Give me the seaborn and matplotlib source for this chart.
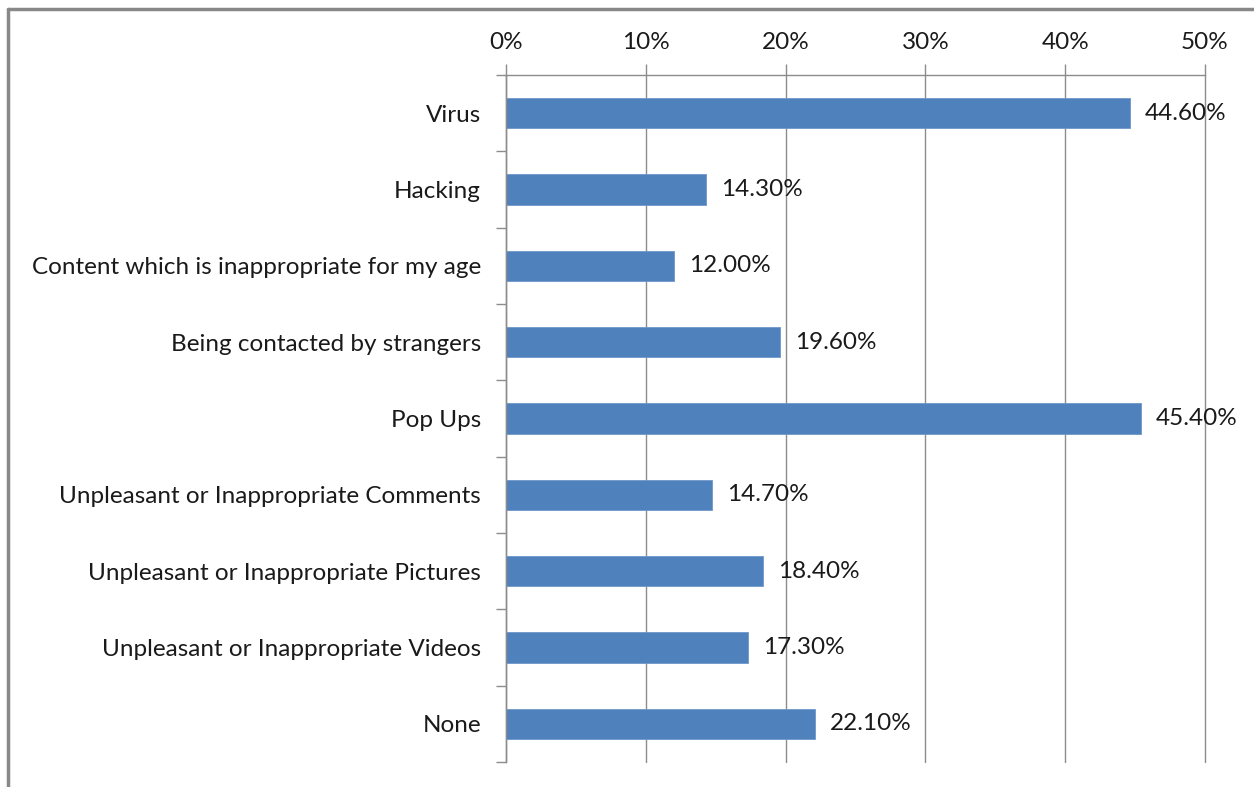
import matplotlib
matplotlib.use("Agg")
import matplotlib.pyplot as plt
from matplotlib.lines import Line2D
from matplotlib.ticker import FuncFormatter
import seaborn as sns
import pandas as pd
import numpy as np

categories = [
    "Virus",
    "Hacking",
    "Content which is inappropriate for my age",
    "Being contacted by strangers",
    "Pop Ups",
    "Unpleasant or Inappropriate Comments",
    "Unpleasant or Inappropriate Pictures",
    "Unpleasant or Inappropriate Videos",
    "None",
]
values = [44.6, 14.3, 12.0, 19.6, 45.4, 14.7, 18.4, 17.3, 22.1]
x_ticks = [0, 10, 20, 30, 40, 50]

sns.set_theme(style="white")
plt.rcParams["font.family"] = ["Lato", "DejaVu Sans"]

df = pd.DataFrame({"category": categories, "value": values})

W, H = 1254, 787
FS = 17.5
TXT = "#1a1a1a"
fig = plt.figure(figsize=(W / 100, H / 100), dpi=100)
ax = fig.add_axes([506 / W, 1 - 762 / H, (1205 - 506) / W, (762 - 75) / H])

sns.barplot(data=df, x="value", y="category", orient="h", color="#4F81BD",
            width=0.4, saturation=1, edgecolor="#6F97CA", linewidth=0.6, ax=ax)

ax.set_xlim(0, 50)
ax.set_ylim(len(categories) - 0.5, -0.5)
ax.set_xlabel("")
ax.set_ylabel("")

grid_c = "#8C8C8C"
ax.xaxis.tick_top()
ax.set_xticks(x_ticks)
ax.xaxis.set_major_formatter(FuncFormatter(lambda v, p: f"{v:.0f}%"))
ax.tick_params(axis="x", direction="out", length=8, width=1, color=grid_c,
               labelsize=FS, pad=8, labelcolor=TXT)
ax.grid(axis="x", color=grid_c, linewidth=1)
for gl in ax.get_xgridlines():
    gl.set_clip_on(False)
ax.set_axisbelow(True)

ax.set_yticks(np.arange(len(categories)))
ax.set_yticklabels(categories)
ax.set_yticks(np.arange(len(categories) + 1) - 0.5, minor=True)
ax.tick_params(axis="y", which="major", length=0, labelsize=FS, pad=18,
               labelcolor=TXT)
ax.tick_params(axis="y", which="minor", direction="out", length=7, width=1,
               color=grid_c, left=True)

for side in ["right", "bottom"]:
    ax.spines[side].set_visible(False)
for side in ["left", "top"]:
    ax.spines[side].set_color(grid_c)
    ax.spines[side].set_linewidth(1)

for i, v in enumerate(values):
    ax.annotate(f"{v:.2f}%", xy=(v, i), xytext=(11, 0), textcoords="offset points",
                va="center", ha="left", fontsize=FS, color=TXT)

# outer frame (top and left edges)
fig.add_artist(Line2D([7.5 / W, 1.0], [1 - 8.5 / H, 1 - 8.5 / H], transform=fig.transFigure,
                      color="#888888", linewidth=2.5))
fig.add_artist(Line2D([7.5 / W, 7.5 / W], [0, 1 - 8.5 / H], transform=fig.transFigure,
                      color="#888888", linewidth=2.5))

fig.savefig("out.png", dpi=100)
